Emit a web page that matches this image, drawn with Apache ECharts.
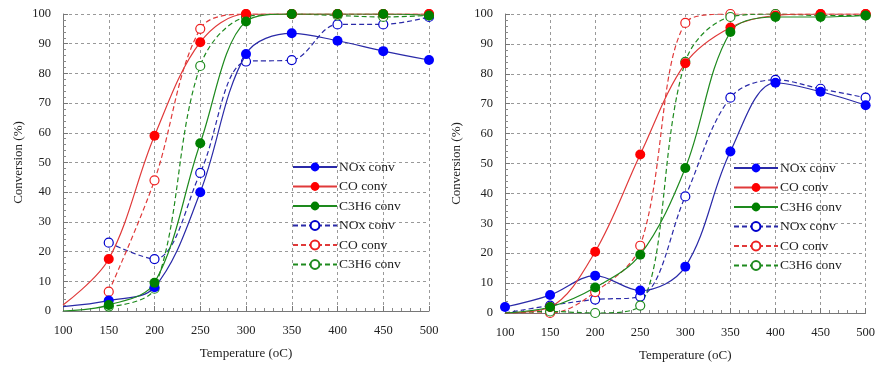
<!DOCTYPE html>
<html>
<head>
<meta charset="utf-8">
<script src="https://cdn.jsdelivr.net/npm/echarts@6/dist/echarts.min.js"></script>
<style>html,body{margin:0;padding:0;background:#fff}#c{width:878px;height:367px}</style>
</head>
<body>
<div id="c"></div>
<script>
// Temperature categories (oC)
const temps = [100, 150, 200, 250, 300, 350, 400, 450, 500];
const yTicks = [0, 10, 20, 30, 40, 50, 60, 70, 80, 90, 100];
const seriesNames = ['NOx conv', 'CO conv', 'C3H6 conv', 'NOx conv ', 'CO conv ', 'C3H6 conv '];

// Left chart
const leftNOxSolid  = [1.5, 3.5, 8, 40, 86.5, 93.5, 91, 87.5, 84.5];
const leftCOSolid   = [2, 17.5, 59, 90.5, 100, 100, 100, 100, 100];
const leftC3H6Solid = [0, 2, 9.5, 56.5, 97.5, 100, 100, 100, 99.5];
const leftNOxDash   = [null, 23, 17.5, 46.5, 84, 84.5, 96.5, 96.5, 99];
const leftCODash    = [null, 6.5, 44, 95, 100, 100, 100, 100, 100];
const leftC3H6Dash  = [null, 1.5, 7.5, 82.5, 99, 100, 99.5, 99, 99.5];

// Right chart
const rightNOxSolid  = [2, 6, 12.5, 7.5, 15.5, 54, 77, 74, 69.5];
const rightCOSolid   = [0, 2, 20.5, 53, 83.5, 95.5, 99.5, 100, 100];
const rightC3H6Solid = [0, 2, 8.5, 19.5, 48.5, 94, 99, 99, 99.5];
const rightNOxDash   = [0, 2.5, 4.5, 5.5, 39, 72, 78, 75, 72];
const rightCODash    = [0, 0, 7, 22.5, 97, 100, 100, 100, 100];
const rightC3H6Dash  = [0, 0.5, 0, 2.5, 84, 99, 100, 99.5, 99.5];

const lineColors   = ['#2a2aa8', '#e03a3a', '#1e8a1e', '#2a2aa8', '#e03a3a', '#1e8a1e'];
const markerColors = ['#0000ff', '#ff0000', '#008000', '#0000cc', '#ee2020', '#1e8a1e'];

const FONT = '"Liberation Serif", "Times New Roman", serif';

function mkSeries(name, data, idx, gridIdx, hideFirstMarker) {
  const dashed = idx >= 3;
  const pts = data.map((v, i) => {
    if (v === null) return null;
    const item = { value: [temps[i], v] };
    if (i === 0 && hideFirstMarker) item.symbol = 'none';
    return item;
  }).filter(p => p !== null);
  return {
    name: name,
    type: 'line',
    xAxisIndex: gridIdx,
    yAxisIndex: gridIdx,
    data: pts,
    smooth: 0.35,
    symbol: 'circle',
    symbolSize: dashed ? 9 : 10,
    z: dashed ? 2 : 3,
    lineStyle: { color: lineColors[idx], width: 1.2, type: dashed ? [5, 3] : 'solid' },
    itemStyle: dashed
      ? { color: '#ffffff', borderColor: markerColors[idx], borderWidth: 1.2 }
      : { color: markerColors[idx], borderColor: markerColors[idx], borderWidth: 0 },
    emphasis: { disabled: true },
    animation: false
  };
}

function mkXAxis(gridIdx) {
  return {
    type: 'value', gridIndex: gridIdx, min: 100, max: 500, interval: 50,
    name: 'Temperature (oC)', nameLocation: 'middle', nameGap: 36,
    nameTextStyle: { fontFamily: FONT, fontSize: 13, color: '#222' },
    axisLine: { show: true, onZero: false, lineStyle: { color: '#777', width: 1 } },
    axisTick: { show: true, inside: true, length: 5, lineStyle: { color: '#777' } },
    minorTick: { show: true, splitNumber: 5, length: 3, lineStyle: { color: '#888' } },
    axisLabel: { fontFamily: FONT, fontSize: 12.5, color: '#222', margin: 13 },
    splitLine: { show: true, lineStyle: { color: '#999', type: [3, 3], width: 1 } }
  };
}
function mkYAxis(gridIdx, gap) {
  return {
    type: 'value', gridIndex: gridIdx, min: 0, max: 100, interval: 10,
    name: 'Conversion (%)', nameLocation: 'middle', nameGap: gap, nameRotate: 90,
    nameTextStyle: { fontFamily: FONT, fontSize: 13, color: '#222' },
    axisLine: { show: true, lineStyle: { color: '#777', width: 1 } },
    axisTick: { show: true, inside: true, length: 5, lineStyle: { color: '#777' } },
    minorTick: { show: true, splitNumber: 5, length: 3, lineStyle: { color: '#888' } },
    axisLabel: { fontFamily: FONT, fontSize: 12.5, color: '#222', margin: 12,
      formatter: v => (yTicks.indexOf(v) >= 0 ? String(v) : '') },
    splitLine: { show: true, lineStyle: { color: '#999', type: [3, 3], width: 1 } }
  };
}

const leftData = [leftNOxSolid, leftCOSolid, leftC3H6Solid, leftNOxDash, leftCODash, leftC3H6Dash];
const rightData = [rightNOxSolid, rightCOSolid, rightC3H6Solid, rightNOxDash, rightCODash, rightC3H6Dash];

const series = [];
leftData.forEach((d, i) => series.push(mkSeries(seriesNames[i], d, i, 0, true)));
rightData.forEach((d, i) => series.push(mkSeries(seriesNames[i], d, i, 1, i !== 0)));

const legendBase = {
  orient: 'vertical', itemWidth: 44, itemHeight: 11, itemGap: 5.5,
  textStyle: { fontFamily: FONT, fontSize: 13.5, color: '#222', padding: [0, 0, 0, -3] },
  data: seriesNames, selectedMode: false, padding: 0
};

const chart = echarts.init(document.getElementById('c'), null, { renderer: 'canvas' });
chart.setOption({
  animation: false,
  backgroundColor: '#ffffff',
  grid: [
    { left: 63, width: 366, top: 14, height: 297 },
    { left: 505, width: 367, top: 14, height: 299 }
  ],
  xAxis: [mkXAxis(0), mkXAxis(1)],
  yAxis: [mkYAxis(0, 38), mkYAxis(1, 42)],
  legend: [
    Object.assign({}, legendBase, { left: 292, top: 160 }),
    Object.assign({}, legendBase, { left: 733, top: 161 })
  ],
  series: series
});
</script>
</body>
</html>
